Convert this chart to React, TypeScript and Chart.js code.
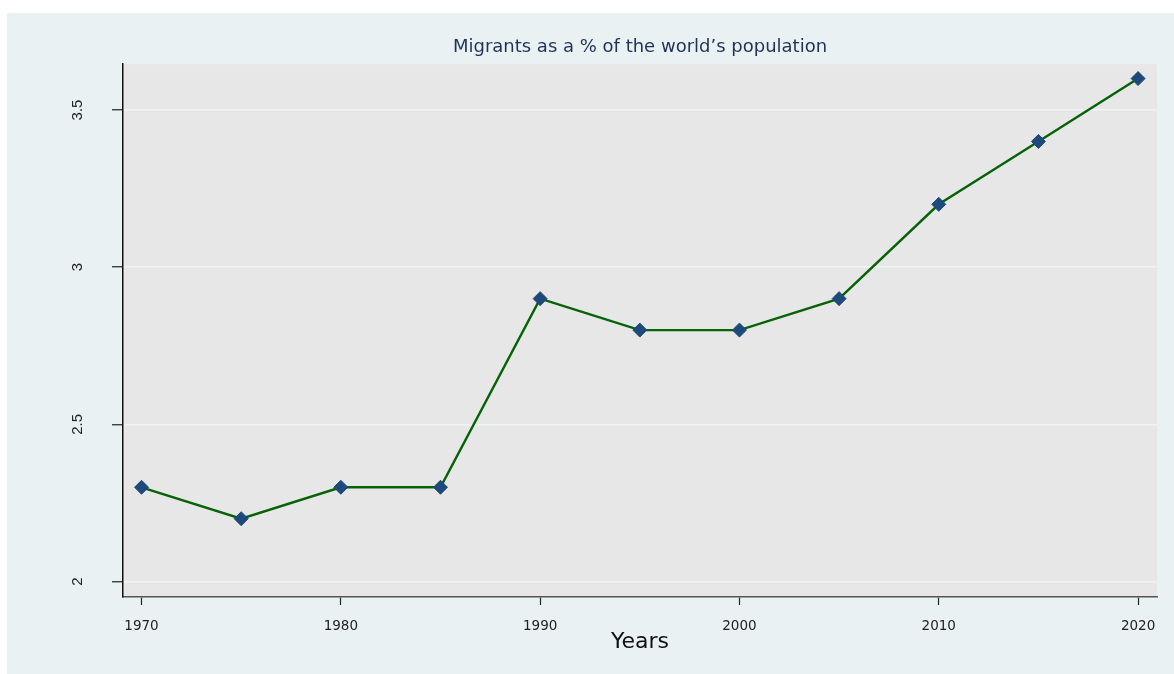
import React, { useEffect, useRef } from "react";
import { Chart, registerables } from "chart.js";

Chart.register(...registerables);

const years = [1970, 1975, 1980, 1985, 1990, 1995, 2000, 2005, 2010, 2015, 2020];
const migrantShare = [2.3, 2.2, 2.3, 2.3, 2.9, 2.8, 2.8, 2.9, 3.2, 3.4, 3.6];
const xTicks = [1970, 1980, 1990, 2000, 2010, 2020];
const yTicks = [2, 2.5, 3, 3.5];
const yTickLabels = ["2", "2.5", "3", "3.5"];
const chartTitle = "Migrants as a % of the world\u2019s population";
const xTitle = "Years";

const backgroundPlugin = {
  id: "bgPanels",
  beforeDraw(chart: any) {
    const { ctx, chartArea, width, height } = chart;
    ctx.save();
    ctx.fillStyle = "#ffffff";
    ctx.fillRect(0, 0, width, height);
    ctx.fillStyle = "#e9f1f3";
    ctx.fillRect(7, 13, width - 7, height - 13);
    ctx.fillStyle = "#e7e7e7";
    ctx.fillRect(chartArea.left, chartArea.top, chartArea.right - chartArea.left, chartArea.bottom - chartArea.top);
    ctx.restore();
  },
};

export default function App() {
  const ref = useRef<HTMLCanvasElement | null>(null);
  useEffect(() => {
    if (!ref.current) return;
    const chart = new Chart(ref.current, {
      type: "line",
      data: {
        datasets: [
          {
            data: years.map((y, i) => ({ x: y, y: migrantShare[i] })),
            borderColor: "#056205",
            borderWidth: 2.4,
            pointStyle: "rectRot",
            pointRadius: 7,
            pointBackgroundColor: "#1d4a7a",
            pointBorderColor: "#1d4a7a",
            pointBorderWidth: 1,
            tension: 0,
          },
        ],
      },
      options: {
        animation: false,
        responsive: false,
        devicePixelRatio: 1,
        layout: { padding: { left: 0, right: 17, top: 0, bottom: 0 } },
        plugins: {
          legend: { display: false },
          tooltip: { enabled: false },
          title: {
            display: true,
            text: chartTitle,
            fullSize: false,
            color: "#1f3358",
            font: { family: "'DejaVu Sans', sans-serif", size: 18, weight: "normal" },
            padding: { top: 36.5, bottom: 6 },
          },
        },
        scales: {
          x: {
            type: "linear",
            min: 1969.07,
            max: 2020.95,
            afterBuildTicks: (s: any) => {
              s.ticks = xTicks.map((v) => ({ value: v }));
            },
            afterFit: (s: any) => {
              s.height = 77;
            },
            border: { display: true, color: "#555555", width: 1.5 },
            grid: {
              display: true,
              drawOnChartArea: false,
              drawTicks: true,
              tickLength: 8,
              tickColor: "#222222",
              tickWidth: 1.2,
            },
            ticks: {
              padding: 13,
              color: "#222222",
              font: { family: "'DejaVu Sans', sans-serif", size: 13.5 },
              maxRotation: 0,
              minRotation: 0,
              callback: (v: any) => String(v),
            },
            title: {
              display: true,
              text: xTitle,
              color: "#111111",
              font: { family: "'DejaVu Sans', sans-serif", size: 22 },
              padding: { top: 0, bottom: 19 },
            },
          },
          y: {
            type: "linear",
            min: 1.951,
            max: 3.646,
            afterBuildTicks: (s: any) => {
              s.ticks = yTicks.map((v) => ({ value: v }));
            },
            afterFit: (s: any) => {
              s.width = 123;
            },
            border: { display: true, color: "#111111", width: 1.5 },
            grid: {
              display: true,
              drawOnChartArea: true,
              drawTicks: true,
              tickLength: 11,
              color: "#f1f4f5",
              lineWidth: 1.5,
              tickColor: "#222222",
              tickWidth: 1.2,
            },
            ticks: {
              padding: 24,
              color: "#222222",
              crossAlign: "center",
              minRotation: 90,
              maxRotation: 90,
              font: { family: "'Liberation Sans', sans-serif", size: 15 },
              callback: (v: any) => {
                const i = yTicks.indexOf(Number(v));
                return i >= 0 ? yTickLabels[i] : "";
              },
            },
          },
        },
      },
      plugins: [backgroundPlugin],
    } as any);
    return () => chart.destroy();
  }, []);
  return (
    <div style={{ position: "fixed", left: 0, top: 0, width: 1174, height: 674 }}>
      <canvas ref={ref} width={1174} height={674} style={{ display: "block", width: 1174, height: 674 }} />
    </div>
  );
}
